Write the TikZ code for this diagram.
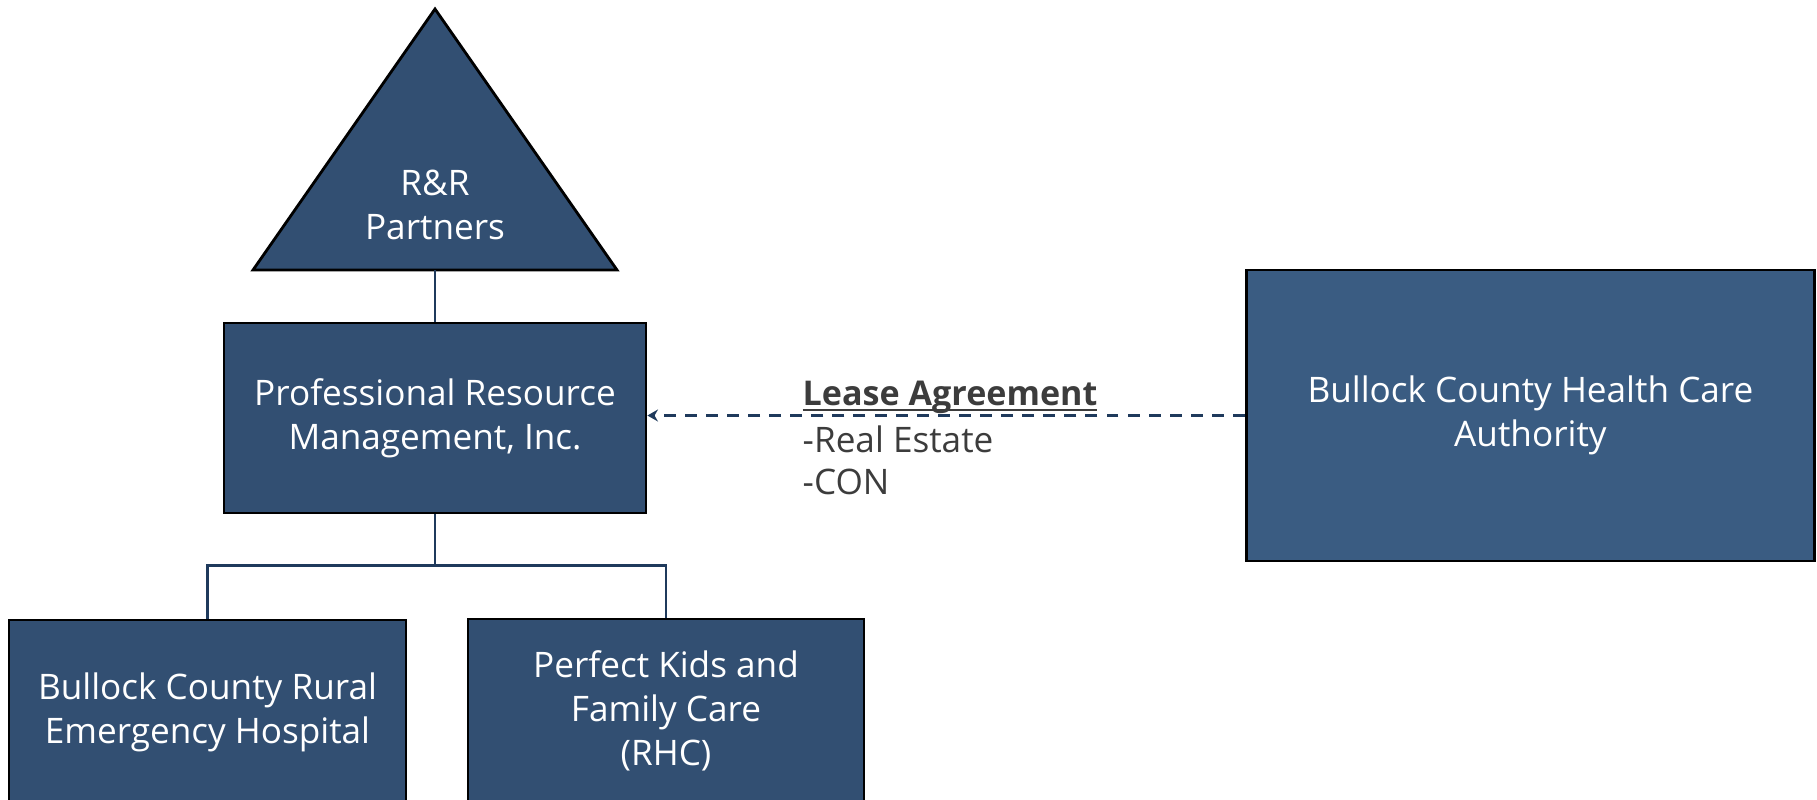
\documentclass[tikz,border=0pt]{standalone}
\usepackage{fontspec}
\setmainfont{Open Sans}
\usepackage{tikz}
\usetikzlibrary{arrows.meta}
\definecolor{orgblue}{HTML}{324F72}
\definecolor{authblue}{HTML}{3A5C82}
\definecolor{linkblue}{HTML}{1F3A5C}
\definecolor{notegray}{HTML}{3C3C3C}
\newcommand{\leaseline}[1]{\setbox0\hbox{#1}\rlap{\rule[-1.6pt]{\wd0}{0.6pt}}\box0}

\begin{document}
\begin{tikzpicture}[
		orgfill/.style={draw=black, line width=0.8pt, fill=orgblue},
		orgbox/.style={orgfill, rectangle, inner sep=0pt, align=center, text=white,
			font=\fontsize{10}{12.5}\selectfont},
		orgtext/.style={inner sep=0pt, align=center, text=white, font=\fontsize{10}{12.5}\selectfont},
		link/.style={draw=linkblue, line width=0.7pt},
		leaselink/.style={draw=linkblue, line width=0.7pt, dash pattern=on 3.4pt off 2.6pt,
			-{Stealth[length=3pt, width=3.4pt]}}
	]
			%%%%% START %%%%%
			\useasboundingbox (0, 0) rectangle (18.17, 7.99);
			\clip (0, 0) rectangle (18.17, 7.99);
			
			% owner
			\draw[orgfill] (4.35, 7.90) -- (6.17, 5.29) -- (2.53, 5.29) -- cycle;
			\coordinate (rrbase) at (4.35, 5.29);
			\node[orgtext] (rr) at (4.35, 5.94) {R\&R\\Partners};
			
			% manager
			\node[orgbox, minimum width=4.22cm, minimum height=1.90cm] (prm) at (4.35, 3.81)
				{Professional Resource\\Management, Inc.};
			
			% facilities
			\node[orgbox, minimum width=3.97cm, minimum height=1.84cm] (erh) at (2.075, 0.87)
				{Bullock County Rural\\Emergency Hospital};
			\node[orgbox, minimum width=3.96cm, minimum height=1.84cm] (pkfc) at (6.66, 0.88)
				{Perfect Kids and\\Family Care\\(RHC)};
			
			% authority
			\node[orgbox, fill=authblue, minimum width=5.68cm, minimum height=2.91cm] (bchca) at (12.45, 3.835)
				[anchor=west] {Bullock County Health Care\\Authority};
			
			\draw[link] (rrbase) -- (prm.north);
			\draw[link] (prm.south) -- ++(0, -0.51) coordinate (split);
			\draw[link] (erh.north) |- (split) -| (pkfc.north);
			
			\draw[leaselink] (bchca.west) -- (bchca.west -| prm.east);
			\node[anchor=west, inner sep=0pt, align=left, text=notegray,
				font=\fontsize{10}{12}\selectfont] (terms) at (8.02, 3.61)
				{\leaseline{\fontsize{9.7}{12}\selectfont\bfseries Lease Agreement}\\[1.5pt]-Real Estate\\-CON};
			
			%%%%% END %%%%%
\end{tikzpicture}
\end{document}
